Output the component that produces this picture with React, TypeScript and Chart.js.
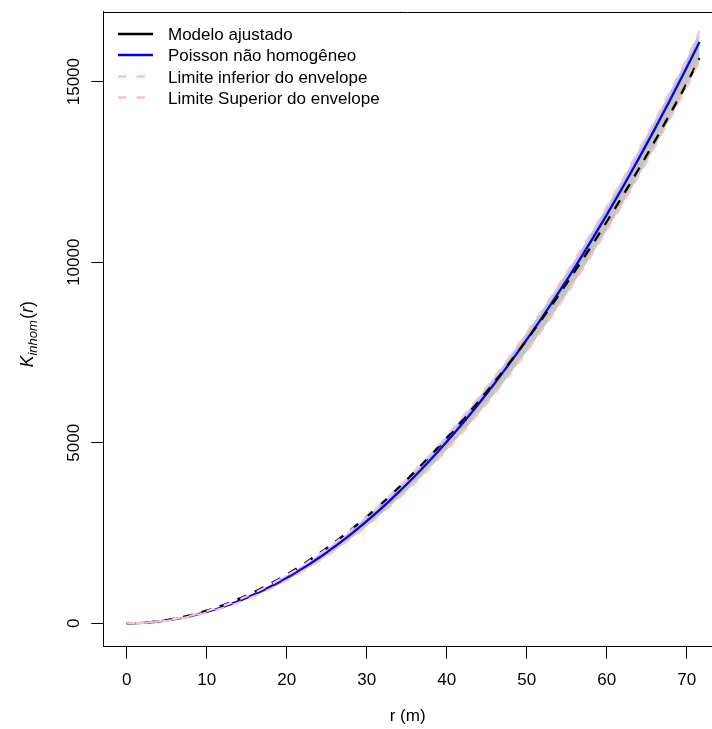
import React, { useEffect, useRef } from 'react';
import { Chart, registerables } from 'chart.js';

Chart.register(...registerables);

// ---- data ----
const rValues = [0, 2, 4, 6, 8, 10, 12, 14, 16, 18, 20, 22, 24, 26, 28, 30, 32, 34, 36, 38, 40, 42, 44, 46, 48, 50, 52, 54, 56, 58, 60, 62, 64, 66, 68, 70, 71.6];
const fittedModel = [0, 15, 58, 128, 225, 350, 500, 675, 875, 1100, 1350, 1625, 1925, 2245, 2590, 2955, 3345, 3760, 4195, 4655, 5130, 5630, 6150, 6690, 7260, 7845, 8455, 9090, 9745, 10420, 11120, 11840, 12580, 13350, 14140, 14950, 15650];
const poissonInhom = [0, 13, 50, 113, 201, 314, 452, 616, 804, 1018, 1257, 1521, 1810, 2124, 2463, 2827, 3217, 3632, 4072, 4536, 5027, 5542, 6082, 6648, 7238, 7854, 8495, 9161, 9852, 10568, 11310, 12076, 12868, 13685, 14527, 15394, 16100];
const envelopeLower = [0, 11, 46, 106, 188, 295, 424, 578, 757, 960, 1187, 1438, 1715, 2015, 2340, 2690, 3062, 3460, 3882, 4330, 4800, 5295, 5815, 6360, 6930, 7525, 8145, 8790, 9460, 10155, 10875, 11620, 12390, 13185, 14005, 14850, 15550];
const envelopeUpper = [0, 14, 54, 121, 214, 335, 480, 652, 850, 1074, 1323, 1598, 1898, 2222, 2572, 2946, 3345, 3770, 4218, 4692, 5190, 5712, 6260, 6833, 7430, 8052, 8700, 9370, 10068, 10790, 11535, 12305, 13100, 13920, 14765, 15635, 16400];

const xTicks = [0, 10, 20, 30, 40, 50, 60, 70];
const yTicks = [0, 5000, 10000, 15000];
const legendLabels = ['Modelo ajustado', 'Poisson não homogêneo', 'Limite inferior do envelope', 'Limite Superior do envelope'];
const xTitle = 'r (m)';
const xRange = [-2.925, 73.16];
const yRange = [-648, 16937];

const FONT = '"Liberation Sans", Arial, Helvetica, sans-serif';
const PINK = '#FFC0CB';
const GRAY = '#c4c4c4';
const BLUE = '#0000FF';

const toPoints = (ys: number[]) => rValues.map((r, i) => ({ x: r, y: ys[i] }));

const decorPlugin = {
  id: 'decor',
  afterDraw(chart: any) {
    const ctx = chart.ctx as CanvasRenderingContext2D;
    const area = chart.chartArea;
    const ys = chart.scales.y;
    ctx.save();
    // top of the box
    ctx.strokeStyle = '#000';
    ctx.lineWidth = 1;
    ctx.setLineDash([]);
    ctx.beginPath();
    ctx.moveTo(area.left, Math.round(area.top) + 0.5);
    ctx.lineTo(area.right, Math.round(area.top) + 0.5);
    ctx.stroke();

    // rotated y tick labels
    ctx.fillStyle = '#000';
    ctx.font = `17px ${FONT}`;
    ctx.textAlign = 'center';
    ctx.textBaseline = 'alphabetic';
    yTicks.forEach((v) => {
      const py = ys.getPixelForValue(v);
      ctx.save();
      ctx.translate(area.left - 24.8, py);
      ctx.rotate(-Math.PI / 2);
      ctx.fillText(String(v), 0, 0);
      ctx.restore();
    });

    // y title: K_inhom(r)
    const parts = [
      { t: 'K', f: `italic 17.5px ${FONT}`, dy: 0 },
      { t: 'inhom', f: `italic 13px ${FONT}`, dy: 4 },
      { t: '(', f: `17.5px ${FONT}`, dy: 0 },
      { t: 'r', f: `italic 17.5px ${FONT}`, dy: 0 },
      { t: ')', f: `17.5px ${FONT}`, dy: 0 },
    ];
    let total = 0;
    const widths = parts.map((p) => {
      ctx.font = p.f;
      const w = ctx.measureText(p.t).width + (p.t === 'inhom' ? 1.5 : 0);
      total += w;
      return w;
    });
    ctx.save();
    ctx.translate(33, (area.top + area.bottom) / 2 + 5);
    ctx.rotate(-Math.PI / 2);
    ctx.textAlign = 'left';
    let cx = -total / 2;
    parts.forEach((p, i) => {
      ctx.font = p.f;
      ctx.fillText(p.t, cx, p.dy);
      cx += widths[i];
    });
    ctx.restore();

    // legend (no box)
    const rows = [34, 55, 76.5, 97.5];
    const styles = [
      { c: '#000', dash: [] as number[], w: 2.5 },
      { c: BLUE, dash: [] as number[], w: 2.5 },
      { c: PINK, dash: [8.5, 10], w: 2.5 },
      { c: PINK, dash: [8.5, 10], w: 2.5 },
    ];
    ctx.font = `17px ${FONT}`;
    ctx.textAlign = 'left';
    ctx.textBaseline = 'alphabetic';
    legendLabels.forEach((lab, i) => {
      const y = rows[i];
      ctx.strokeStyle = styles[i].c;
      ctx.lineWidth = styles[i].w;
      ctx.setLineDash(styles[i].dash);
      ctx.beginPath();
      ctx.moveTo(118, y);
      ctx.lineTo(153, y);
      ctx.stroke();
      ctx.setLineDash([]);
      ctx.fillStyle = '#000';
      ctx.fillText(lab, 168, y + 6);
    });
    ctx.restore();
  },
};

export default function App() {
  const canvasRef = useRef<HTMLCanvasElement | null>(null);

  useEffect(() => {
    const canvas = canvasRef.current;
    if (!canvas) return;
    const chart = new Chart(canvas, {
      type: 'line',
      data: {
        datasets: [
          {
            label: legendLabels[2],
            data: toPoints(envelopeLower),
            borderColor: PINK,
            borderWidth: 2.2,
            borderDash: [9, 9],
            pointRadius: 0,
            fill: false,
            cubicInterpolationMode: 'monotone',
          },
          {
            label: legendLabels[3],
            data: toPoints(envelopeUpper),
            borderColor: PINK,
            borderWidth: 2.2,
            borderDash: [9, 9],
            borderDashOffset: 9,
            backgroundColor: GRAY,
            pointRadius: 0,
            fill: '-1',
            cubicInterpolationMode: 'monotone',
          },
          {
            label: legendLabels[0],
            data: toPoints(fittedModel),
            borderColor: '#000',
            borderWidth: 2.3,
            borderDash: [10, 9],
            pointRadius: 0,
            fill: false,
            cubicInterpolationMode: 'monotone',
          },
          {
            label: legendLabels[1],
            data: toPoints(poissonInhom),
            borderColor: BLUE,
            borderWidth: 2.3,
            pointRadius: 0,
            fill: false,
            cubicInterpolationMode: 'monotone',
          },
        ],
      },
      options: {
        animation: false,
        responsive: false,
        devicePixelRatio: 1,
        layout: { padding: { left: 0, right: 0, top: 11.7, bottom: 0 } },
        plugins: {
          legend: { display: false },
          tooltip: { enabled: false },
          filler: { drawTime: 'beforeDatasetsDraw' },
        },
        scales: {
          x: {
            type: 'linear',
            min: xRange[0],
            max: xRange[1],
            ticks: {
              includeBounds: false,
              color: '#000',
              font: { family: FONT, size: 17 },
              padding: 11,
              maxRotation: 0,
              minRotation: 0,
              callback: (v: any) => String(v),
            },
            afterBuildTicks: (scale: any) => {
              scale.ticks = xTicks.map((v) => ({ value: v }));
            },
            afterFit: (scale: any) => {
              scale.height = 729 - 646.7;
              scale.paddingLeft = 0;
              scale.paddingRight = 0;
            },
            grid: {
              display: true,
              drawOnChartArea: false,
              drawTicks: true,
              tickLength: 12,
              color: '#000',
              lineWidth: 1,
            },
            border: { display: true, color: '#000', width: 1 },
            title: {
              display: true,
              text: xTitle,
              color: '#000',
              font: { family: FONT, size: 17 },
              padding: { top: 0, bottom: 2 },
            },
          },
          y: {
            type: 'linear',
            min: yRange[0],
            max: yRange[1],
            ticks: { display: false, includeBounds: false },
            afterBuildTicks: (scale: any) => {
              scale.ticks = yTicks.map((v) => ({ value: v }));
            },
            afterFit: (scale: any) => {
              scale.width = 103.3;
              scale.paddingTop = 0;
              scale.paddingBottom = 0;
            },
            grid: {
              display: true,
              drawOnChartArea: false,
              drawTicks: true,
              tickLength: 12,
              color: '#000',
              lineWidth: 1,
            },
            border: { display: true, color: '#000', width: 1 },
          },
        },
      } as any,
      plugins: [decorPlugin],
    });
    return () => chart.destroy();
  }, []);

  return (
    <div style={{ position: 'absolute', left: 0, top: 0, width: 712, height: 729, background: '#fff' }}>
      <canvas ref={canvasRef} width={712} height={729} style={{ display: 'block' }} />
    </div>
  );
}
